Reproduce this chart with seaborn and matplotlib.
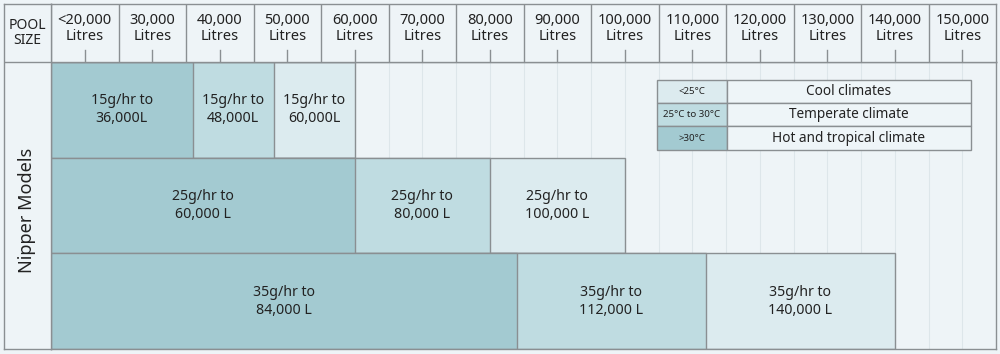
import matplotlib
matplotlib.use('Agg')
import matplotlib.pyplot as plt
import pandas as pd
import seaborn as sns
from matplotlib.patches import Rectangle

# Nipper model ratings: max pool volume per climate band
models = ['15g/hr', '25g/hr', '35g/hr']
hot_max = [36000, 60000, 84000]
temperate_max = [48000, 80000, 112000]
cool_max = [60000, 100000, 140000]
hot_text = ['36,000L', '60,000 L', '84,000 L']
temperate_text = ['48,000L', '80,000 L', '112,000 L']
cool_text = ['60,000L', '100,000 L', '140,000 L']

pool_sizes = [20000, 30000, 40000, 50000, 60000, 70000, 80000, 90000,
              100000, 110000, 120000, 130000, 140000, 150000]
pool_labels = ['<20,000', '30,000', '40,000', '50,000', '60,000', '70,000', '80,000',
               '90,000', '100,000', '110,000', '120,000', '130,000', '140,000', '150,000']

climates = ['Cool', 'Temperate', 'Hot']
climate_ranges = ['<25°C', '25°C to 30°C', '>30°C']
climate_names = ['Cool climates', 'Temperate climate', 'Hot and tropical climate']

colors = {'Cool': '#dcebef', 'Temperate': '#bfdce1', 'Hot': '#a3cad1'}
BG = '#eef4f7'
LINE = '#8a8f92'
GRID = '#dde6ea'
TXT = '#222222'

plt.rcParams['font.family'] = ['Noto Sans', 'DejaVu Sans']

df = pd.DataFrame({
    'model': models * 3,
    'climate': ['Cool'] * 3 + ['Temperate'] * 3 + ['Hot'] * 3,
    'max_volume': cool_max + temperate_max + hot_max,
})

W, H = 1000, 354
fig = plt.figure(figsize=(W / 100, H / 100), dpi=100, facecolor=BG)


def fbox(x0, y0, x1, y1):
    # pixel box (top-left origin) -> figure fraction [left, bottom, width, height]
    return [x0 / W, 1 - y1 / H, (x1 - x0) / W, (y1 - y0) / H]


XMIN, XMAX = 15000, 155000

# ---- body
ax = fig.add_axes(fbox(51, 62, 996, 349))
ax.set_facecolor(BG)
for x in range(20000, 155000, 5000):
    ax.axvline(x, color=GRID, lw=0.8, zorder=0)
sns.barplot(data=df, x='max_volume', y='model', hue='climate', hue_order=climates,
            palette=colors, dodge=False, width=1.0, saturation=1, legend=False,
            edgecolor=LINE, linewidth=1.0, orient='h', ax=ax, zorder=2)
ax.set_xlim(XMIN, XMAX)
ax.set_ylim(2.5, -0.5)
ax.set_xticks([])
ax.set_yticks([])
ax.set_xlabel('')
ax.set_ylabel('')
for s in ax.spines.values():
    s.set_color(LINE)
    s.set_linewidth(1.0)

for i, m in enumerate(models):
    starts = [XMIN, hot_max[i], temperate_max[i]]
    ends = [hot_max[i], temperate_max[i], cool_max[i]]
    texts = [hot_text[i], temperate_text[i], cool_text[i]]
    for s, e, t in zip(starts, ends, texts):
        ax.text((s + e) / 2, i, f'{m} to\n{t}', ha='center', va='center',
                fontsize=10.2, color=TXT, linespacing=1.25, zorder=5)

# ---- legend table inside body
lx0, lx1, lxm = 657, 971, 727
ly = [80, 103, 126, 150]
for k in range(3):
    fc = colors[climates[k]]
    fig.patches.append(Rectangle((lx0 / W, 1 - ly[k + 1] / H), (lxm - lx0) / W,
                                 (ly[k + 1] - ly[k]) / H, transform=fig.transFigure,
                                 facecolor=fc, edgecolor=LINE, lw=1.0, zorder=10))
    fig.patches.append(Rectangle((lxm / W, 1 - ly[k + 1] / H), (lx1 - lxm) / W,
                                 (ly[k + 1] - ly[k]) / H, transform=fig.transFigure,
                                 facecolor='#eef5f8', edgecolor=LINE, lw=1.0, zorder=10))
    yc = 1 - (ly[k] + ly[k + 1]) / 2 / H
    fig.text((lx0 + lxm) / 2 / W, yc, climate_ranges[k], ha='center', va='center',
             fontsize=7, color=TXT, zorder=11)
    fig.text((lxm + lx1) / 2 / W, yc, climate_names[k], ha='center', va='center',
             fontsize=9.8, color=TXT, zorder=11)

# ---- header row with pool sizes
hx = fig.add_axes(fbox(51, 4, 996, 62))
hx.set_facecolor(BG)
hx.set_xlim(XMIN, XMAX)
hx.set_ylim(0, 1)
for x in range(25000, 150000, 10000):
    hx.axvline(x, color=LINE, lw=1.0)
for v, lab in zip(pool_sizes, pool_labels):
    hx.plot([v, v], [0, 0.2], color=LINE, lw=1.0)
    hx.text(v, 0.58, f'{lab}\nLitres', ha='center', va='center', fontsize=10.5,
            color=TXT, linespacing=1.05)
hx.set_xticks([])
hx.set_yticks([])
for s in hx.spines.values():
    s.set_color(LINE)
    s.set_linewidth(1.0)

# ---- left column
lx = fig.add_axes(fbox(4, 4, 51, 349))
lx.set_facecolor(BG)
lx.set_xlim(0, 1)
lx.set_ylim(349, 4)
lx.axhline(62, color=LINE, lw=1.0)
lx.text(0.5, 33, 'POOL\nSIZE', ha='center', va='center', fontsize=10,
        color=TXT, linespacing=1.05)
lx.text(0.5, 210, 'Nipper Models', ha='center', va='center', fontsize=13,
        rotation=90, color=TXT)
lx.set_xticks([])
lx.set_yticks([])
for s in lx.spines.values():
    s.set_color(LINE)
    s.set_linewidth(1.0)

fig.savefig('out.png', dpi=100, facecolor=BG)
